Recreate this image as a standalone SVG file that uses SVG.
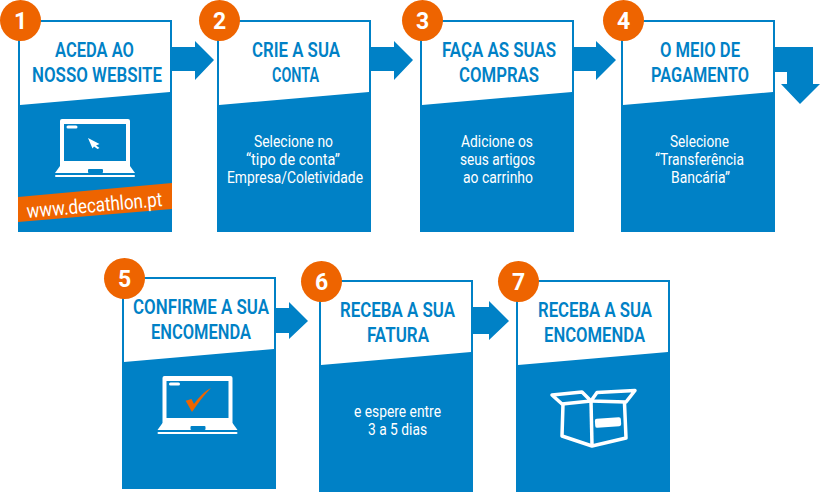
<svg xmlns="http://www.w3.org/2000/svg" width="820" height="492" viewBox="0 0 820 492">
<style>
.card{fill:#0081c6}
.head{fill:#fff}
.badge{fill:#ee6400}
.num{font:700 23px Roboto,"Liberation Sans",sans-serif;fill:#fff;text-anchor:middle}
.t{font:600 20px Roboto,"Liberation Sans",sans-serif;fill:#0081c6;text-anchor:middle}
.b{font:400 16.500px Roboto,"Liberation Sans",sans-serif;fill:#fff;text-anchor:middle}
.arrow{fill:#0081c6}
.lap{fill:none;stroke:#fff;stroke-width:3.500;stroke-linejoin:round}
.w{fill:#fff}
</style>
<defs>
<g id="card">
<rect class="card" width="154" height="212"/>
<path class="head" d="M2 2H152V72L2 85Z"/>
</g>
<g id="laptop">
<rect class="w" width="70" height="49" rx="2"/>
<rect class="card" x="4" y="5" width="62" height="37"/>
<path class="w" d="M0 47H70L75 54H-5Z"/>
<rect class="w" x="-5" y="56" width="80" height="2" rx="1"/>
<rect class="card" x="28" y="50" width="15" height="4" rx="1"/>
<rect class="w" x="6.500" y="6.500" width="11" height="3" rx="1.500"/>
</g>
</defs>

<g id="connectors">
<path class="arrow" d="M172 47H195V41L214 60L195 80V71H172Z"/>
<path class="arrow" d="M371 47H394V41L413 60L394 80V71H371Z"/>
<path class="arrow" d="M574 47H596V41L616 60L596 80V71H574Z"/>
<path class="arrow" d="M775 47H813V84H820L800 104L781 84H787V72H775Z"/>
<path class="arrow" d="M276 308H289V302L308 321L289 339V333H276Z"/>
<path class="arrow" d="M473 307H489V301L509 321L489 340V334H473Z"/>
</g>

<g id="node-1">
<use href="#card" x="18" y="20"/>
<text class="t" x="94.500" y="57" textLength="79" lengthAdjust="spacingAndGlyphs">ACEDA AO</text>
<text class="t" x="97" y="82" textLength="130" lengthAdjust="spacingAndGlyphs">NOSSO WEBSITE</text>
<use href="#laptop" x="60" y="119"/>
<path class="w" d="M88 138L99.500 144L96 145.500L99.500 148L97.500 149L94 146.500L92.500 148.500Z"/>
<path class="badge" d="M18 197L172 183V209L18 222Z"/>
<text class="b" x="94.500" y="212" transform="rotate(-5 94.500 205)" style="font-size:20px;font-weight:400" textLength="136" lengthAdjust="spacingAndGlyphs">www.decathlon.pt</text>
<circle class="badge" cx="20.500" cy="20.500" r="20.500"/>
<text class="num" x="20.500" y="29">1</text>
</g>

<g id="node-2">
<use href="#card" x="217" y="20"/>
<text class="t" x="296" y="57" textLength="88" lengthAdjust="spacingAndGlyphs">CRIE A SUA</text>
<text class="t" x="295.500" y="82" textLength="47" lengthAdjust="spacingAndGlyphs">CONTA</text>
<text class="b" x="293.500" y="147" textLength="79" lengthAdjust="spacingAndGlyphs">Selecione no</text>
<text class="b" x="293" y="165" textLength="94" lengthAdjust="spacingAndGlyphs">“tipo de conta”</text>
<text class="b" x="295" y="183" textLength="136" lengthAdjust="spacingAndGlyphs">Empresa/Coletividade</text>
<circle class="badge" cx="219.500" cy="20.500" r="20.500"/>
<text class="num" x="219.500" y="29">2</text>
</g>

<g id="node-3">
<use href="#card" x="420" y="20"/>
<text class="t" x="499" y="57" textLength="114" lengthAdjust="spacingAndGlyphs">FAÇA AS SUAS</text>
<text class="t" x="499" y="82" textLength="80" lengthAdjust="spacingAndGlyphs">COMPRAS</text>
<text class="b" x="497" y="147" textLength="72" lengthAdjust="spacingAndGlyphs">Adicione os</text>
<text class="b" x="497.500" y="165" textLength="75" lengthAdjust="spacingAndGlyphs">seus artigos</text>
<text class="b" x="498" y="183" textLength="70" lengthAdjust="spacingAndGlyphs">ao carrinho</text>
<circle class="badge" cx="422.500" cy="20.500" r="20.500"/>
<text class="num" x="422.500" y="29">3</text>
</g>

<g id="node-4">
<use href="#card" x="621" y="20"/>
<text class="t" x="700" y="57" textLength="80" lengthAdjust="spacingAndGlyphs">O MEIO DE</text>
<text class="t" x="700" y="82" textLength="98" lengthAdjust="spacingAndGlyphs">PAGAMENTO</text>
<text class="b" x="699.500" y="147" textLength="59" lengthAdjust="spacingAndGlyphs">Selecione</text>
<text class="b" x="699.500" y="165" textLength="89" lengthAdjust="spacingAndGlyphs">“Transferência</text>
<text class="b" x="700.500" y="183" textLength="59" lengthAdjust="spacingAndGlyphs">Bancária”</text>
<circle class="badge" cx="623.500" cy="20.500" r="20.500"/>
<text class="num" x="623.500" y="29">4</text>
</g>

<g id="node-5">
<use href="#card" x="122" y="277"/>
<text class="t" x="201" y="314" textLength="136" lengthAdjust="spacingAndGlyphs">CONFIRME A SUA</text>
<text class="t" x="201" y="339" textLength="100" lengthAdjust="spacingAndGlyphs">ENCOMENDA</text>
<use href="#laptop" x="162.500" y="376"/>
<path class="badge" d="M185.700 400.700L191.500 399L194 404C199 397 205 391 211 388C204 395 198 403 192 412Z"/>
<circle class="badge" cx="124.500" cy="278.500" r="20.500"/>
<text class="num" x="124.500" y="287">5</text>
</g>

<g id="node-6">
<use href="#card" x="319" y="280"/>
<text class="t" x="397.500" y="317" textLength="115" lengthAdjust="spacingAndGlyphs">RECEBA A SUA</text>
<text class="t" x="398" y="342" textLength="62" lengthAdjust="spacingAndGlyphs">FATURA</text>
<text class="b" x="397.500" y="417" textLength="87" lengthAdjust="spacingAndGlyphs">e espere entre</text>
<text class="b" x="397.500" y="435" textLength="59" lengthAdjust="spacingAndGlyphs">3 a 5 dias</text>
<circle class="badge" cx="321.500" cy="281.500" r="20.500"/>
<text class="num" x="321.500" y="290">6</text>
</g>

<g id="node-7">
<use href="#card" x="516" y="280"/>
<text class="t" x="595" y="317" textLength="114" lengthAdjust="spacingAndGlyphs">RECEBA A SUA</text>
<text class="t" x="594.500" y="342" textLength="101" lengthAdjust="spacingAndGlyphs">ENCOMENDA</text>
<g class="lap">
<path d="M552 395L582 392L591 401L562 404Z"/>
<path d="M597 392.500L635 390.500L626 402L591 401Z"/>
<path d="M563 404L562 436L592 446L626 438L624.500 403"/>
<path d="M591 401L592 445"/>
</g>
<rect class="w" x="595" y="418" width="26" height="9" rx="2" transform="rotate(-4 608 422)"/>
<circle class="badge" cx="518.500" cy="281.500" r="20.500"/>
<text class="num" x="518.500" y="290">7</text>
</g>
</svg>
